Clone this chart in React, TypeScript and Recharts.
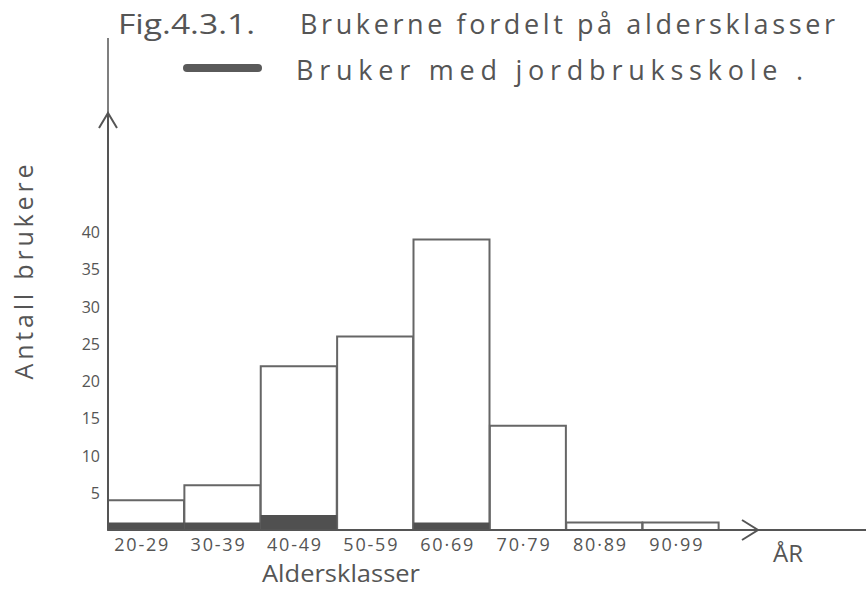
import { BarChart, Bar, XAxis, YAxis, Legend } from 'recharts'

// Brukere per aldersklasse, lest av figuren
const ageClasses = ['20-29', '30-39', '40-49', '50-59', '60·69', '70·79', '80·89', '90·99']
const allUsers = [4, 6, 22, 26, 39, 14, 1, 1]
const schoolUsers = [1, 1, 2, 0, 1, 0, 0, 0]
const yTicks = [5, 10, 15, 20, 25, 30, 35, 40]

const INK = '#555'
const FONT = '"Open Sans", "DejaVu Sans", sans-serif'

const data = ageClasses.map((name, i) => ({ name, all: allUsers[i], school: schoolUsers[i] }))

function XTick({ x, y, payload }: any) {
  return (
    <text x={x - 4} y={y} dy={13} textAnchor="middle" fontSize={18} fill={INK} fontFamily={FONT} letterSpacing={1.8}>
      {payload.value}
    </text>
  )
}

function YTick({ x, y, payload }: any) {
  return (
    <text x={x} y={y} dy={6} textAnchor="end" fontSize={16} fill={INK} fontFamily={FONT}>
      {payload.value}
    </text>
  )
}

function LegendBox() {
  return (
    <svg width={683} height={50} style={{ display: 'block' }}>
      <rect x={0} y={14} width={79} height={8} rx={4} fill="#5a5a5a" />
      <text x={113} y={30} fontSize={27} fill={INK} fontFamily={FONT} textLength={507} lengthAdjust="spacing">
        Bruker med jordbruksskole .
      </text>
    </svg>
  )
}

export default function App() {
  return (
    <div style={{ position: 'absolute', left: 0, top: 0, width: 866, height: 589, background: '#fff' }}>
      <BarChart
        width={866}
        height={589}
        data={data}
        margin={{ top: 113, right: 108, bottom: 0, left: 0 }}
        barCategoryGap={0}
        barGap={0}
      >
        <defs>
          <marker id="arrowX" markerUnits="userSpaceOnUse" markerWidth={20} markerHeight={24} viewBox="0 0 20 24" refX={18} refY={12} orient="auto">
            <path d="M2,2 L18,12 L2,22" fill="none" stroke={INK} strokeWidth={2} />
          </marker>
          <marker id="arrowY" markerUnits="userSpaceOnUse" markerWidth={20} markerHeight={20} viewBox="0 0 20 20" refX={18} refY={10} orient="auto-start-reverse">
            <path d="M3,1 L18,10 L3,19" fill="none" stroke={INK} strokeWidth={2} />
          </marker>
        </defs>
        <XAxis
          xAxisId="main"
          dataKey="name"
          padding={{ left: 0, right: 39 }}
          height={59}
          axisLine={{ stroke: INK, strokeWidth: 2, markerEnd: 'url(#arrowX)' }}
          tickLine={false}
          tickSize={0}
          tickMargin={8}
          tick={<XTick />}
          interval={0}
        />
        <XAxis xAxisId="school" dataKey="name" padding={{ left: 0, right: 39 }} hide />
        <YAxis
          width={108}
          domain={[0, 56]}
          ticks={yTicks}
          axisLine={{ stroke: INK, strokeWidth: 2, markerStart: 'url(#arrowY)' }}
          tickLine={false}
          tickSize={0}
          tickMargin={8}
          tick={<YTick />}
        />
        <Legend
          verticalAlign="middle"
          layout="horizontal"
          content={<LegendBox />}
          wrapperStyle={{ position: 'absolute', top: 50, left: 183, width: 683, height: 50 }}
        />
        <Bar xAxisId="main" dataKey="all" fill="#fff" stroke="#666" strokeWidth={2} isAnimationActive={false} />
        <Bar xAxisId="school" dataKey="school" fill="#505050" isAnimationActive={false} />

        {/* tittel og aksetekster */}
        <text x={118} y={34} fontSize={27} fill={INK} fontFamily={FONT} textLength={137} lengthAdjust="spacingAndGlyphs">
          Fig.4.3.1.
        </text>
        <text x={300} y={34} fontSize={27} fill={INK} fontFamily={FONT} textLength={535} lengthAdjust="spacing">
          Brukerne fordelt på aldersklasser
        </text>
        <text x={33} y={272} transform="rotate(-90 33 272)" textAnchor="middle" fontSize={25} fill={INK} fontFamily={FONT} textLength={215} lengthAdjust="spacing">
          Antall brukere
        </text>
        <text x={262} y={582} fontSize={24} fill={INK} fontFamily={FONT} textLength={158} lengthAdjust="spacingAndGlyphs">
          Aldersklasser
        </text>
        <text x={773} y={562} fontSize={24} fill={INK} fontFamily={FONT}>
          ÅR
        </text>
        {/* aksestreker som fortsetter forbi pilene */}
        <line x1={108} y1={38} x2={108} y2={115} stroke={INK} strokeWidth={1.5} />
        <line x1={758} y1={530} x2={866} y2={530} stroke={INK} strokeWidth={2} />
      </BarChart>
    </div>
  )
}
